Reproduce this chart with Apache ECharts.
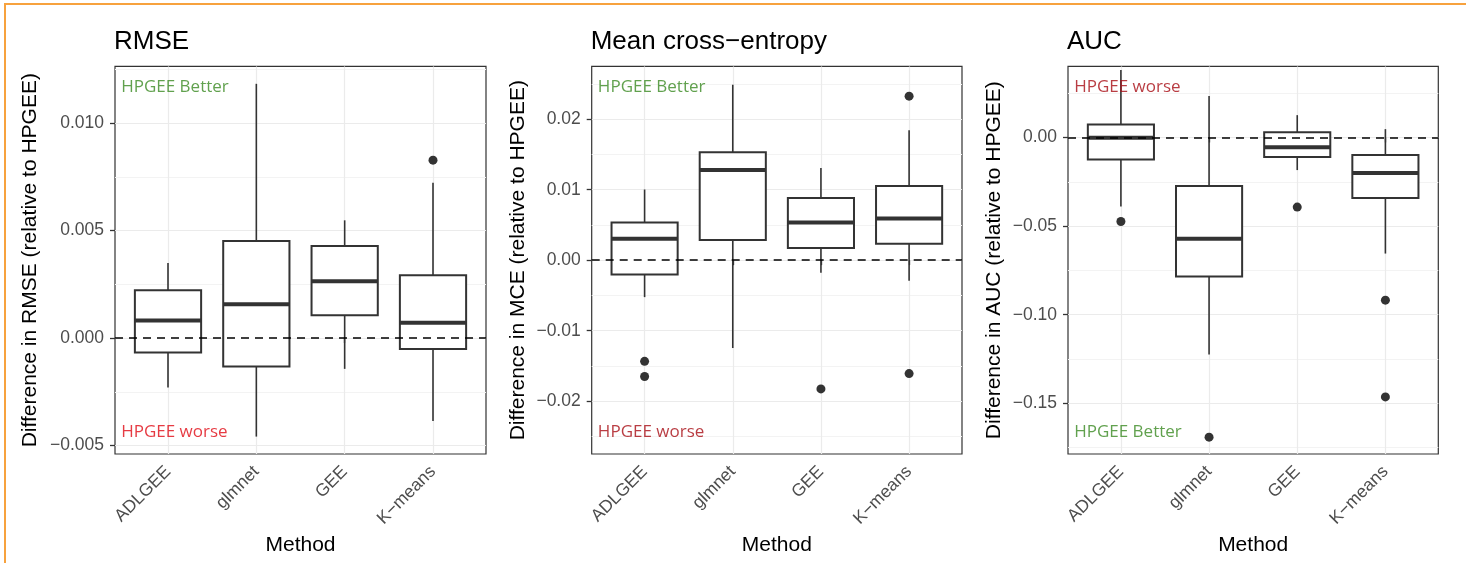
<!DOCTYPE html>
<html>
<head>
<meta charset="utf-8">
<script src="https://cdn.jsdelivr.net/npm/echarts@6/dist/echarts.min.js"></script>
<style>
  html, body { margin: 0; padding: 0; background: #fff; }
  #main { width: 1466px; height: 563px; }
</style>
</head>
<body>
<div id="main"></div>
<script>
// methods on the x axis (same for all three panels)
var methods = ['ADLGEE', 'glmnet', 'GEE', 'K\u2212means'];

// boxes: [min whisker, Q1, median, Q3, max whisker] per method
var rmseBoxes = [
  [-0.0023, -0.00067, 0.00082, 0.00223, 0.0035],
  [-0.00458, -0.00132, 0.00158, 0.00452, 0.01183],
  [-0.00143, 0.00107, 0.00265, 0.00428, 0.00548],
  [-0.00385, -0.0005, 0.00072, 0.00293, 0.00723]
];
// outliers: [method index, value]
var rmseOutliers = [[3, 0.00828]];

var mceBoxes = [
  [-0.00524, -0.00203, 0.00305, 0.00534, 0.01003],
  [-0.01246, 0.00285, 0.01278, 0.01533, 0.02489],
  [-0.00178, 0.00174, 0.00534, 0.00881, 0.01308],
  [-0.0029, 0.00235, 0.00591, 0.01053, 0.01843]
];
var mceOutliers = [[0, -0.01435], [0, -0.01649], [2, -0.01826], [3, 0.02327], [3, -0.01608]];

var aucBoxes = [
  [-0.0389, -0.0125, -0.0002, 0.0073, 0.038],
  [-0.1224, -0.0785, -0.0572, -0.0274, 0.0234],
  [-0.0184, -0.011, -0.0055, 0.0029, 0.0126],
  [-0.0655, -0.0342, -0.0201, -0.0099, 0.0047]
];
var aucOutliers = [[0, -0.0474], [1, -0.1691], [2, -0.0393], [3, -0.0918], [3, -0.1464]];

// y tick values (major) and minor grid values
var rmseTicks = [-0.005, 0, 0.005, 0.01];
var rmseMinor = [-0.0025, 0.0025, 0.0075, 0.0125];
var mceTicks = [-0.02, -0.01, 0, 0.01, 0.02];
var mceMinor = [-0.025, -0.015, -0.005, 0.005, 0.015, 0.025];
var aucTicks = [-0.15, -0.10, -0.05, 0];
var aucMinor = [-0.175, -0.125, -0.075, -0.025, 0.025];

var panels = [
  { title: 'RMSE', yName: 'Difference in RMSE (relative to HPGEE)', boxes: rmseBoxes, outliers: rmseOutliers,
    ticks: rmseTicks, minor: rmseMinor, dec: 3, yMin: -0.00539, yMax: 0.01264, left: 115, width: 371, nameGap: 74,
    notes: [['HPGEE Better', 0.01168, '#3a8a22'], ['HPGEE worse', -0.00436, '#e00a14']] },
  { title: 'Mean cross\u2212entropy', yName: 'Difference in MCE (relative to HPGEE)', boxes: mceBoxes, outliers: mceOutliers,
    ticks: mceTicks, minor: mceMinor, dec: 2, yMin: -0.02749, yMax: 0.02749, left: 591.7, width: 370.3, nameGap: 63,
    notes: [['HPGEE Better', 0.02458, '#3a8a22'], ['HPGEE worse', -0.02434, '#a80c14']] },
  { title: 'AUC', yName: 'Difference in AUC (relative to HPGEE)', boxes: aucBoxes, outliers: aucOutliers,
    ticks: aucTicks, minor: aucMinor, dec: 2, yMin: -0.1786, yMax: 0.0401, left: 1068, width: 370.3, nameGap: 63,
    notes: [['HPGEE worse', 0.02856, '#a80c14'], ['HPGEE Better', -0.1661, '#3a8a22']] }
];

var FONT = 'Liberation Sans, Arial, sans-serif';

function fmt(v, dec) {
  var s = Math.abs(v) < 1e-12 ? (0).toFixed(dec) : v.toFixed(dec);
  return s.replace('-', '\u2212');
}

function renderBox(params, api) {
  var x = api.value(0);
  var lo = api.coord([x, api.value(1)]);
  var q1 = api.coord([x, api.value(2)]);
  var md = api.coord([x, api.value(3)]);
  var q3 = api.coord([x, api.value(4)]);
  var hi = api.coord([x, api.value(5)]);
  var half = api.size([0.75, 0])[0] / 2;
  var st = { stroke: '#333', lineWidth: 1.6, fill: null };
  return {
    type: 'group',
    children: [
      { type: 'line', shape: { x1: lo[0], y1: lo[1], x2: q1[0], y2: q1[1] }, style: st },
      { type: 'line', shape: { x1: q3[0], y1: q3[1], x2: hi[0], y2: hi[1] }, style: st },
      { type: 'rect', shape: { x: q3[0] - half, y: q3[1], width: half * 2, height: q1[1] - q3[1] },
        style: { fill: '#fff', stroke: '#333', lineWidth: 2 } },
      { type: 'line', shape: { x1: md[0] - half, y1: md[1], x2: md[0] + half, y2: md[1] },
        style: { stroke: '#333', lineWidth: 4 } }
    ]
  };
}

var myChart = echarts.init(document.getElementById('main'));

var option = {
  backgroundColor: '#fff',
  animation: false,
  title: [],
  grid: [],
  xAxis: [],
  yAxis: [],
  series: [],
  graphic: [
    { type: 'line', shape: { x1: 4, y1: 4, x2: 1466, y2: 4 }, style: { stroke: '#f7a23e', lineWidth: 2 } },
    { type: 'line', shape: { x1: 5, y1: 4, x2: 5, y2: 563 }, style: { stroke: '#f7a23e', lineWidth: 2 } }
  ]
};

panels.forEach(function (p, i) {
  option.title.push({
    text: p.title, left: p.left - 1, top: 29, padding: 0,
    textStyle: { fontFamily: FONT, fontSize: 26, fontWeight: 'normal', color: '#000' }
  });
  option.grid.push({
    left: p.left, top: 66.4, width: p.width, height: 387.6,
    show: true, borderColor: '#333', borderWidth: 1.2, backgroundColor: '#fff'
  });
  option.xAxis.push({
    type: 'value', gridIndex: i, min: 0.4, max: 4.6,
    name: 'Method', nameLocation: 'middle', nameGap: 80,
    nameTextStyle: { fontFamily: FONT, fontSize: 21, color: '#000' },
    axisLine: { show: false },
    axisTick: { show: true, length: 5, customValues: [1, 2, 3, 4], lineStyle: { color: '#333', width: 1.3 } },
    axisLabel: {
      customValues: [1, 2, 3, 4], rotate: 45, margin: 15,
      fontFamily: FONT, fontSize: 17.5, color: '#4d4d4d',
      formatter: function (v) { return methods[Math.round(v) - 1]; }
    },
    splitLine: { show: true, lineStyle: { color: '#ebebeb', width: 1.2 } }
  });
  option.yAxis.push({
    type: 'value', gridIndex: i, min: p.yMin, max: p.yMax,
    name: p.yName, nameLocation: 'middle', nameGap: p.nameGap, nameRotate: 90,
    nameTextStyle: { fontFamily: FONT, fontSize: 21, color: '#000' },
    axisLine: { show: false },
    axisTick: { show: true, length: 5, customValues: p.ticks, lineStyle: { color: '#333', width: 1.3 } },
    axisLabel: {
      customValues: p.ticks, margin: 11, fontFamily: FONT, fontSize: 17.5, color: '#4d4d4d',
      formatter: (function (d) { return function (v) { return fmt(v, d); }; })(p.dec)
    },
    splitLine: { show: true, lineStyle: { color: '#ebebeb', width: 1.2 } }
  });
  // minor horizontal grid lines
  option.yAxis.push({
    type: 'value', gridIndex: i, min: p.yMin, max: p.yMax, position: 'right',
    axisLine: { show: false },
    axisTick: { show: false, customValues: p.minor },
    axisLabel: { show: false, customValues: p.minor },
    splitLine: { show: true, lineStyle: { color: '#f3f3f3', width: 1 } }
  });

  option.series.push({
    type: 'custom', xAxisIndex: i, yAxisIndex: 2 * i, z: 3,
    renderItem: renderBox,
    encode: { x: 0, y: [1, 2, 3, 4, 5] },
    data: p.boxes.map(function (b, k) { return [k + 1].concat(b); })
  });
  option.series.push({
    type: 'scatter', xAxisIndex: i, yAxisIndex: 2 * i, z: 4,
    symbolSize: 9, itemStyle: { color: '#333', opacity: 1 },
    data: p.outliers.map(function (o) { return [o[0] + 1, o[1]]; })
  });
  // dashed reference line at zero, on top of the boxes
  option.series.push({
    type: 'scatter', xAxisIndex: i, yAxisIndex: 2 * i, z: 6, data: [],
    markLine: {
      silent: true, symbol: ['none', 'none'], label: { show: false },
      lineStyle: { color: '#000', type: [8, 6], width: 1.5 },
      data: [{ yAxis: 0 }]
    }
  });
  // HPGEE better / worse notes
  option.series.push({
    type: 'scatter', xAxisIndex: i, yAxisIndex: 2 * i, z: 7, symbolSize: 0, silent: true,
    data: p.notes.map(function (n) {
      return {
        value: [0.47, n[1]],
        label: {
          show: true, position: [0, 0], align: 'left', verticalAlign: 'middle',
          formatter: n[0], color: n[2], fontFamily: 'Open Sans', fontSize: 17
        }
      };
    })
  });
});

myChart.setOption(option);
</script>
</body>
</html>
